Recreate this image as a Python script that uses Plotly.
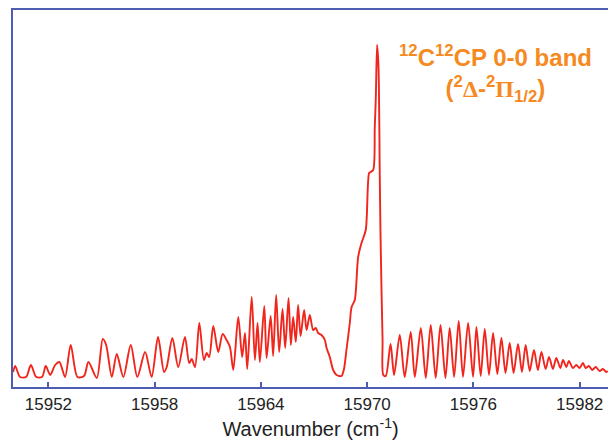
import plotly.graph_objects as go

wavenumber = [
    15950.01, 15950.12, 15950.40, 15950.74, 15951.01, 15951.31, 15951.64, 15951.85,
    15952.10, 15952.38, 15952.62, 15952.94, 15953.26, 15953.64, 15954.01, 15954.26,
    15954.73, 15955.07, 15955.26, 15955.58, 15955.86, 15956.23, 15956.65, 15957.02,
    15957.46, 15957.83, 15958.19, 15958.53, 15958.68, 15959.00, 15959.33, 15959.71,
    15959.95, 15960.09, 15960.28, 15960.52, 15960.78, 15960.94, 15961.08, 15961.31,
    15961.59, 15961.84, 15962.06, 15962.25, 15962.44, 15962.72, 15962.94, 15963.10,
    15963.23, 15963.48, 15963.66, 15963.81, 15963.94, 15964.19, 15964.32, 15964.55,
    15964.69, 15964.86, 15965.03, 15965.22, 15965.37, 15965.56, 15965.69, 15965.82,
    15965.97, 15966.10, 15966.24, 15966.44, 15966.58, 15966.76, 15966.95, 15967.10,
    15967.23, 15967.42, 15967.61, 15967.71, 15967.89, 15968.08, 15968.27, 15968.55,
    15968.68, 15968.83, 15969.02, 15969.12, 15969.30, 15969.49, 15969.68, 15969.92,
    15970.11, 15970.19, 15970.34, 15970.43, 15970.49, 15970.56, 15970.64, 15970.71,
    15970.75, 15970.81, 15970.87, 15970.91, 15971.05, 15971.32, 15971.52, 15971.84,
    15972.12, 15972.46, 15972.69, 15973.03, 15973.31, 15973.59, 15973.87, 15974.14,
    15974.42, 15974.66, 15974.91, 15975.17, 15975.41, 15975.70, 15975.98, 15976.17,
    15976.41, 15976.64, 15976.88, 15977.11, 15977.35, 15977.58, 15977.81, 15978.05,
    15978.27, 15978.52, 15978.74, 15978.95, 15979.18, 15979.42, 15979.64, 15979.84,
    15980.08, 15980.27, 15980.49, 15980.68, 15980.91, 15981.06, 15981.25, 15981.39,
    15981.62, 15981.81, 15982.00, 15982.18, 15982.34, 15982.52, 15982.71, 15982.90,
    15983.13, 15983.31, 15983.50, 15983.58,
]

intensity = [
    15, 21, 10, 10, 22, 10, 10, 21,
    12, 22, 25, 10, 42, 10, 11, 25,
    9, 48, 42, 10, 33, 10, 42, 10,
    35, 10, 50, 15, 20, 49, 20, 50,
    24, 28, 20, 64, 27, 34, 30, 61,
    35, 53, 47, 40, 17, 70, 30, 54,
    18, 90, 27, 64, 25, 81, 29, 71,
    31, 92, 35, 78, 39, 89, 42, 70,
    45, 82, 51, 77, 57, 72, 57, 59,
    54, 52, 47, 39, 30, 17, 12, 11,
    17, 37, 64, 80, 87, 130, 144, 157,
    214, 215, 217, 260, 290, 342, 320, 214,
    157, 97, 47, 12, 11, 43, 12, 52,
    10, 55, 10, 59, 9, 62, 9, 62,
    9, 59, 10, 66, 10, 64, 10, 60,
    11, 58, 12, 54, 13, 49, 14, 44,
    14, 43, 15, 42, 16, 37, 17, 35,
    18, 30, 18, 29, 19, 27, 20, 26,
    19, 22, 19, 24, 19, 21, 17, 20,
    16, 18, 15, 16,
]

x_ticks = [15952, 15958, 15964, 15970, 15976, 15982]
x_range = [15950, 15983.6]
y_range = [0, 377]

greek = '<span style="font-family:Liberation Serif, serif">'
band_label = (
    "<b><sup>12</sup>C<sup>12</sup>CP 0-0 band<br>"
    "(<sup>2</sup>" + greek + "Δ</span>-<sup>2</sup>" + greek + "Π</span><sub>1/2</sub>)</b>"
)

axis_color = "#4f5db0"

fig = go.Figure()
fig.add_trace(go.Scatter(
    x=wavenumber, y=intensity, mode="lines",
    line=dict(color="#f0261c", width=1.9, shape="spline", smoothing=0.8),
    showlegend=False, hoverinfo="skip",
))

fig.add_annotation(
    x=15977.25, y=314, xref="x", yref="y",
    text=band_label, showarrow=False, align="center",
    font=dict(family="Liberation Sans, Arial, sans-serif", size=24, color="#f58a1f"),
)

fig.update_layout(
    width=608, height=442,
    margin=dict(l=13, r=0, t=10, b=55, autoexpand=False),
    paper_bgcolor="white", plot_bgcolor="white",
    font=dict(family="Liberation Sans, Arial, sans-serif", color="#222222"),
)
fig.update_xaxes(
    range=x_range, tickvals=x_ticks, ticktext=[str(t) for t in x_ticks],
    showline=True, linecolor=axis_color, linewidth=2, mirror=True,
    ticks="inside", ticklen=5, tickwidth=2, tickcolor=axis_color,
    showgrid=False, zeroline=False, automargin=False,
    ticklabelstandoff=1,
    tickfont=dict(size=17, color="#222222"),
    title=dict(text="Wavenumber (cm<sup>-1</sup>)", font=dict(size=20, color="#222222"), standoff=9),
)
fig.update_yaxes(
    range=y_range, showline=True, linecolor=axis_color, linewidth=2, mirror=False,
    showticklabels=False, ticks="", showgrid=False, zeroline=False, automargin=False,
)

fig.write_html(
    "out.html",
    config={"displayModeBar": False},
    post_script="document.body.style.margin='0';document.body.style.overflow='hidden';",
)
